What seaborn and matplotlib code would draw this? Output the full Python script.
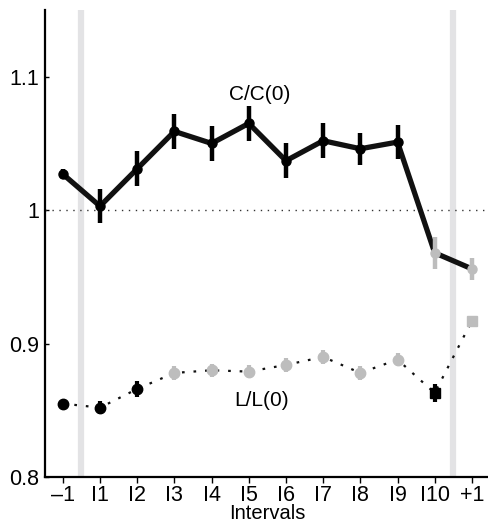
import matplotlib
matplotlib.use("Agg")
import matplotlib.pyplot as plt
import seaborn as sns
import numpy as np
import pandas as pd

sns.set_style("white")
plt.rcParams['font.family'] = ['Liberation Sans', 'DejaVu Sans']
plt.rcParams['text.color'] = 'black'
plt.rcParams['axes.labelcolor'] = 'black'

tick_labels = ["\u20131", "I1", "I2", "I3", "I4", "I5", "I6", "I7", "I8", "I9", "I10", "+1"]
c_vals = [1.027, 1.003, 1.031, 1.059, 1.050, 1.065, 1.037, 1.052, 1.046, 1.051, 0.968, 0.956]
c_err = [0.004, 0.013, 0.013, 0.013, 0.013, 0.013, 0.013, 0.013, 0.012, 0.013, 0.012, 0.008]
c_cols = ["k"] * 10 + ["#bdbdbd"] * 2
l_vals = [0.855, 0.852, 0.866, 0.878, 0.880, 0.879, 0.884, 0.890, 0.878, 0.888, 0.863, 0.917]
l_err = [0.002, 0.005, 0.006, 0.005, 0.005, 0.005, 0.005, 0.005, 0.005, 0.005, 0.007, 0.003]
l_cols = ["k"] * 3 + ["#bdbdbd"] * 7 + ["k", "#bdbdbd"]
l_markers = ["o"] * 10 + ["s", "s"]

x = np.arange(len(tick_labels))
df = pd.DataFrame({"x": x, "C": c_vals, "L": l_vals})

fig = plt.figure(figsize=(4.89, 5.25), dpi=100)
ax = fig.add_axes([0.092, 0.0914, 0.908, 0.8896])

ax.axhline(1.0, color="#333333", lw=1.0, ls=(0, (1, 4)), zorder=1)
ax.axvline(0.5, color="#e3e3e5", lw=4.5, zorder=0)
ax.axvline(10.5, color="#e3e3e5", lw=4.5, zorder=0)

sns.lineplot(data=df, x="x", y="C", ax=ax, color="#111111", lw=3.8, zorder=3)
sns.lineplot(data=df, x="x", y="L", ax=ax, color="#111111", lw=1.6,
             linestyle=(0, (1.2, 4)), zorder=3)

for i in range(len(x)):
    ax.errorbar(x[i], c_vals[i], yerr=c_err[i], fmt="o", color=c_cols[i],
                ms=6.5, elinewidth=3.2, capsize=0, zorder=4)
    ax.errorbar(x[i], l_vals[i], yerr=l_err[i], fmt=l_markers[i], color=l_cols[i],
                ms=7.5, elinewidth=3.0, capsize=0, zorder=4)

ax.text(5.3, 1.087, "C/C(0)", ha="center", va="center", fontsize=15)
ax.text(5.35, 0.857, "L/L(0)", ha="center", va="center", fontsize=15)

ax.set_xlim(-0.48, 11.46)
ax.set_ylim(0.8, 1.15)
ax.set_xticks(x)
ax.set_xticklabels(tick_labels)
ax.set_yticks([0.8, 0.9, 1.0, 1.1])
ax.set_yticklabels(["0.8", "0.9", "1", "1.1"])
ax.set_xlabel("Intervals", fontsize=14.5, labelpad=-1.5)
ax.set_ylabel("")

for s in ["top", "right"]:
    ax.spines[s].set_visible(False)
for s in ["left", "bottom"]:
    ax.spines[s].set_color("black")
    ax.spines[s].set_linewidth(1.6)

ax.tick_params(axis="x", direction="out", length=4, width=1, labelsize=15.5, pad=1.5, colors="black")
ax.tick_params(axis="y", direction="in", length=3, width=1, labelsize=15.5, pad=4, colors="black")
ax.tick_params(axis="y", left=True)
ax.tick_params(axis="x", bottom=True)

fig.savefig("out.png", dpi=100)
